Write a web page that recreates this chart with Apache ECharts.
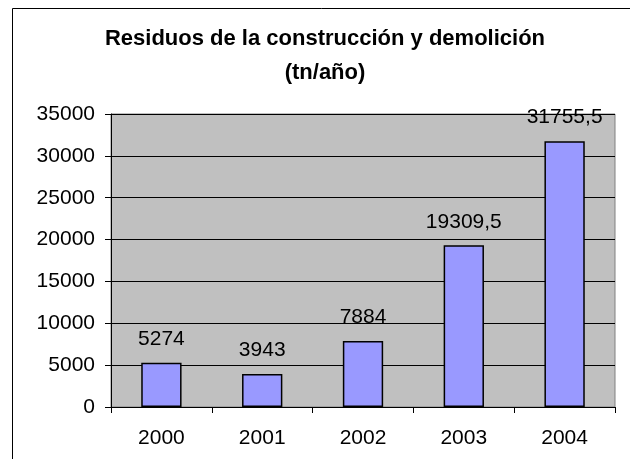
<!DOCTYPE html>
<html><head><meta charset="utf-8">
<script src="https://cdn.jsdelivr.net/npm/echarts@6/dist/echarts.min.js"></script>
<style>html,body{margin:0;padding:0;background:#fff}#c{width:630px;height:459px}</style>
</head><body><div id="c"></div>
<script>
const categories = ['2000', '2001', '2002', '2003', '2004'];
const values = [5274, 3943, 7884, 19309.5, 31755.5];
const titleLines = ['Residuos de la construcción y demolición', '(tn/año)'];

const chart = echarts.init(document.getElementById('c'), null, {renderer: 'canvas'});
const font = 'Liberation Sans, Arial, sans-serif';
chart.setOption({
  animation: false,
  backgroundColor: '#fff',
  title: {
    text: titleLines.join('\n'),
    left: 320, top: 17, textAlign: 'center',
    textStyle: {fontFamily: font, fontWeight: 'bold', fontSize: 22, color: '#000', lineHeight: 34}
  },
  graphic: [{
    type: 'rect', shape: {x: 12.5, y: 8.5, width: 700, height: 600},
    style: {fill: 'none', stroke: '#000', lineWidth: 1}, z: 100
  }],
  grid: {left: 111, top: 114, width: 504, height: 293, backgroundColor: '#C0C0C0', show: true, borderColor: '#808080', borderWidth: 1},
  xAxis: {
    type: 'category', data: categories,
    axisLine: {lineStyle: {color: '#000'}},
    axisTick: {show: true, length: 6, lineStyle: {color: '#000'}},
    axisLabel: {fontFamily: font, fontSize: 21, color: '#000', margin: 21}
  },
  yAxis: {
    type: 'value', min: 0, max: 35000, interval: 5000,
    axisLine: {show: true, lineStyle: {color: '#000'}},
    axisTick: {show: true, length: 6, lineStyle: {color: '#000'}},
    splitLine: {lineStyle: {color: '#000', width: 1}},
    axisLabel: {fontFamily: font, fontSize: 21, color: '#000', margin: 16, formatter: v => String(v)}
  },
  series: [{
    type: 'bar', data: values, barWidth: '40%',
    itemStyle: {color: '#9999FF', borderColor: '#000', borderWidth: 1.5},
    label: {
      show: true, position: 'top', distance: 13,
      fontFamily: font, fontSize: 21, color: '#000',
      formatter: p => String(p.value).replace('.', ',')
    }
  }]
});
</script></body></html>
